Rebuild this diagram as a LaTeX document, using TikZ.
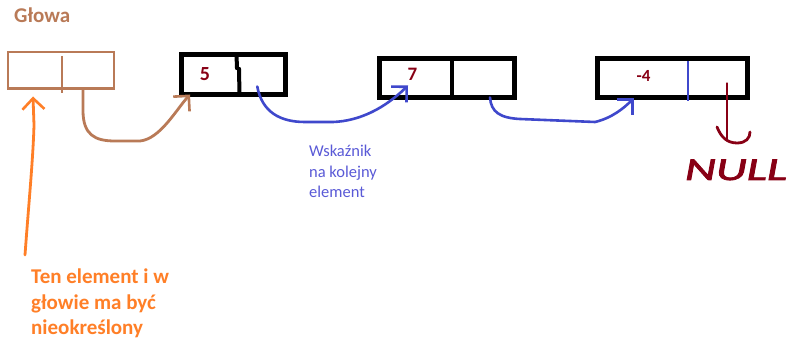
\documentclass[tikz,border=0pt]{standalone}
\usepackage{fontspec}
\setmainfont{Carlito}
\usetikzlibrary{arrows.meta}
\definecolor{cbrown}{RGB}{185,122,87}
\definecolor{corange}{RGB}{255,127,39}
\definecolor{cblue}{RGB}{63,72,204}
\definecolor{ctext}{RGB}{90,90,215}
\definecolor{cred}{RGB}{136,0,21}
\tikzset{
  cell/.style={draw=black, line width=5pt, rectangle, outer sep=0pt, inner sep=0pt},
  headcell/.style={draw=cbrown, line width=2.6pt, rectangle, outer sep=0pt, inner sep=0pt},
  barb/.style={-{Straight Barb[length=11pt,width=22pt,line width=2.6pt]}},
  brownline/.style={draw=cbrown, line width=2.8pt, line cap=round, line join=round, barb},
  blueline/.style={draw=cblue, line width=2.6pt, line cap=round, line join=round, barb},
  orangeline/.style={draw=corange, line width=2.8pt, line cap=round, line join=round, barb},
  redline/.style={draw=cred, line width=2.8pt, line cap=round, line join=round},
  val/.style={text=cred, font=\bfseries\fontsize{20}{22}\selectfont, inner sep=0pt, anchor=base},
  orangetxt/.style={text=corange, font=\bfseries\fontsize{21}{25}\selectfont, inner sep=0pt, anchor=base west},
  bluetxt/.style={text=ctext, font=\fontsize{16.5}{20}\selectfont, inner sep=0pt, anchor=base west}
}
\begin{document}
\begin{tikzpicture}[x=1pt,y=-1pt]
\useasboundingbox (0,0) rectangle (787,339);
\fill[white] (0,0) rectangle (787,339);

% title
\node[text=cbrown, font=\bfseries\fontsize{21}{23}\selectfont, inner sep=0pt, anchor=base west] (title) at (14,23) {Głowa};

% head box
\node[headcell, minimum width=106pt, minimum height=36.5pt] (head) at (61,70.25) {};
\draw[cbrown, line width=2.6pt] (62,56) -- (62,93);

% element boxes
\node[cell, minimum width=103.5pt, minimum height=39.5pt] (b5) at (233.25,74.75) {};
\draw[black, line width=4pt] (236.5,55) -- (237,68) -- (239,69) -- (239.5,94.5);
\node[val] (v5) at (205,81) {5};

\node[cell, minimum width=135pt, minimum height=39pt] (b7) at (447,78) {};
\draw[black, line width=4.5pt] (452,58.5) -- (452,97.5);
\node[val, font=\bfseries\fontsize{19}{21}\selectfont] (v7) at (412.5,81) {7};

\node[cell, minimum width=150pt, minimum height=39pt] (b4) at (672.5,78) {};
\draw[cblue, line width=2.2pt] (688,61) -- (688,101);
\node[val, font=\bfseries\fontsize{17}{19}\selectfont] (v4) at (643.5,81.5) {-4};

% brown arrow head -> first element
\draw[brownline] ([xshift=22pt]head.south) -- ++(0,22)
  .. controls (83,135) and (95,141) .. (115,141)
  -- (140,141)
  .. controls (160,139) and (176,110) .. ([xshift=8.5pt]b5.south west);

% blue arrow 5 -> 7
\draw[blueline] ([xshift=24pt,yshift=8pt]b5.south)
  .. controls (262,112) and (280,122) .. (305,122)
  -- (333,122)
  .. controls (360,121) and (385,108) .. ([xshift=-39pt,yshift=12pt]b7.south);

% blue arrow 7 -> -4
\draw[blueline] ([xshift=43pt]b7.south)
  .. controls (491,112) and (500,118) .. (520,119)
  -- (595,122)
  .. controls (612,118) and (624,108) .. ([xshift=-39pt,yshift=-1pt]b4.south);

% orange arrow
\coordinate (ostart) at (25,255);
\draw[orangeline] (ostart) .. controls (29,200) and (33,160) .. (34,125)
  -- ([xshift=25pt,yshift=-8pt]head.south west);

% NULL pointer
\coordinate (nulltip) at (727,139);
\draw[redline] ([xshift=54.5pt,yshift=14pt]b4.south) -- (nulltip);
\draw[redline] (717,127) .. controls (721,137) and (727,143) .. (737,143)
  .. controls (746,143) and (750,138) .. (750,132);
\node[text=cred, font=\fontsize{32}{34}\selectfont, inner sep=0pt, anchor=base] (null) at (736,180) {\scalebox{1.5}[1]{\addfontfeature{FakeBold=2}\itshape NULL}};

% texts
\node[bluetxt] (w1) at (309,157) {Wskaźnik};
\node[bluetxt] (w2) at (309,178) {na kolejny};
\node[bluetxt] (w3) at (309,198) {element};

\node[orangetxt] (o1) at (31,283) {Ten element i w};
\node[orangetxt] (o2) at (31,309) {głowie ma być};
\node[orangetxt] (o3) at (31,334) {nieokreślony};
\end{tikzpicture}
\end{document}
